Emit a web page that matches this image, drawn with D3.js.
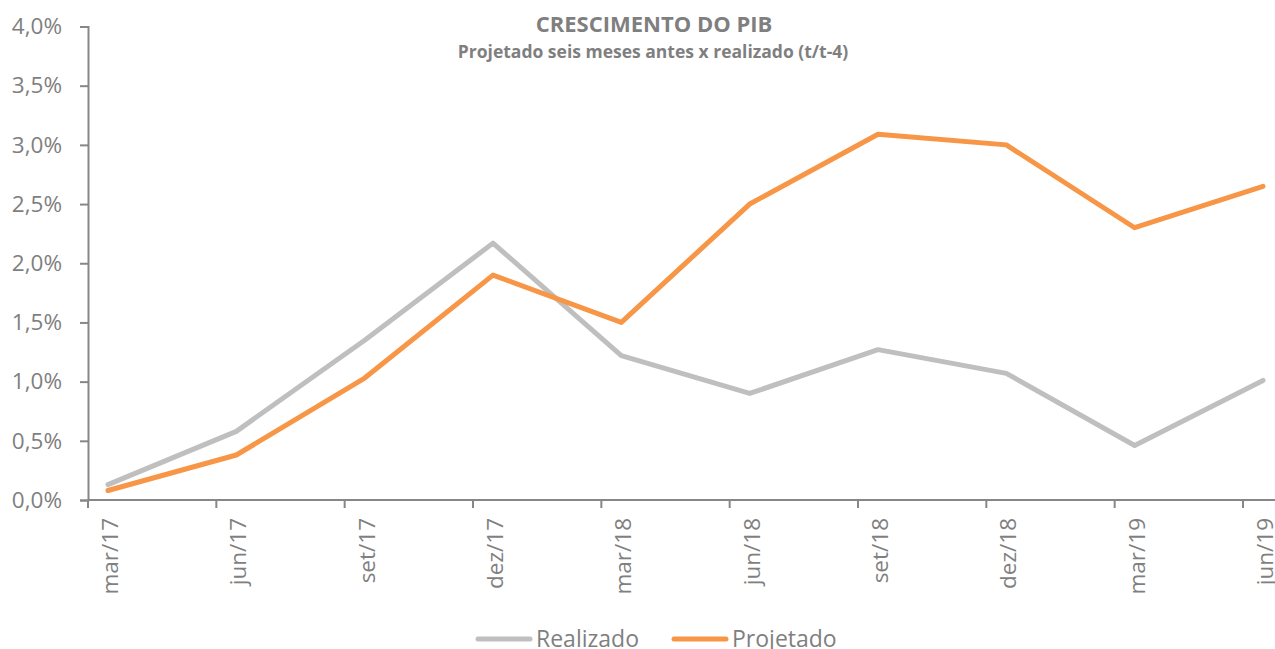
<!DOCTYPE html>
<html>
<head>
<meta charset="utf-8">
<script src="https://cdn.jsdelivr.net/npm/d3@7"></script>
<style>
  body { margin: 0; background: #fff; }
  svg text { font-family: "Open Sans", Lato, sans-serif; fill: #7f7f7f; }
</style>
</head>
<body>
<svg id="chart" width="1275" height="649"></svg>
<script>
const categories = ['mar/17', 'jun/17', 'set/17', 'dez/17', 'mar/18', 'jun/18', 'set/18', 'dez/18', 'mar/19', 'jun/19'];
const realizado = [0.13, 0.58, 1.35, 2.17, 1.22, 0.90, 1.27, 1.07, 0.46, 1.01];
const projetado = [0.08, 0.38, 1.03, 1.90, 1.50, 2.50, 3.09, 3.00, 2.30, 2.65];
const yTicks = [0, 0.5, 1, 1.5, 2, 2.5, 3, 3.5, 4];
const seriesNames = ['Realizado', 'Projetado'];
const seriesColors = ['#bfbfbf', '#f79646'];

const svg = d3.select('#chart');
const axisColor = '#878787';

const x = d3.scalePoint()
    .domain(categories)
    .range([108, 1263]);

const y = d3.scaleLinear()
    .domain([0, 4])
    .range([500, 26.5]);

const fmt = function(d) { return d.toFixed(1).replace('.', ',') + '%'; };

// y axis
const yAxis = svg.append('g')
    .attr('transform', 'translate(88,0)')
    .call(d3.axisLeft(y).tickValues(yTicks).tickFormat(fmt).tickSize(8).tickPadding(18));
yAxis.select('.domain').attr('stroke', axisColor).attr('stroke-width', 2);
yAxis.selectAll('.tick line').attr('stroke', axisColor).attr('stroke-width', 2);
yAxis.selectAll('.tick text')
    .style('font-size', '22.5px')
    .attr('fill', '#7f7f7f');

// x axis
const xg = svg.append('g');
xg.append('line')
    .attr('x1', 88).attr('x2', 1275)
    .attr('y1', y(0)).attr('y2', y(0))
    .attr('stroke', axisColor).attr('stroke-width', 2);

categories.forEach(function(c) {
    xg.append('line')
        .attr('x1', x(c) - 20).attr('x2', x(c) - 20)
        .attr('y1', y(0)).attr('y2', y(0) + 8)
        .attr('stroke', axisColor).attr('stroke-width', 2);

    xg.append('text')
        .attr('transform', 'translate(' + (x(c) + 10) + ',' + (y(0) + 18) + ') rotate(-90)')
        .attr('text-anchor', 'end')
        .style('font-size', '22.5px')
        .text(c);
});

// lines
const line = d3.line()
    .x(function(d, i) { return x(categories[i]); })
    .y(function(d) { return y(d); });

[realizado, projetado].forEach(function(s, i) {
    svg.append('path')
        .datum(s)
        .attr('d', line)
        .attr('fill', 'none')
        .attr('stroke', seriesColors[i])
        .attr('stroke-width', 5)
        .attr('stroke-linejoin', 'round')
        .attr('stroke-linecap', 'round');
});

// title
svg.append('text')
    .attr('x', 654).attr('y', 32)
    .attr('text-anchor', 'middle')
    .style('font-size', '22px')
    .style('font-weight', 'bold')
    .text('CRESCIMENTO DO PIB');

svg.append('text')
    .attr('x', 653).attr('y', 58)
    .attr('text-anchor', 'middle')
    .style('font-size', '17.5px')
    .style('font-weight', 'bold')
    .text('Projetado seis meses antes x realizado (t/t-4)');

// legend
const legendX = [478, 674];
seriesNames.forEach(function(n, i) {
    const lg = svg.append('g').attr('transform', 'translate(' + legendX[i] + ',639)');
    lg.append('line')
        .attr('x1', 0).attr('x2', 52)
        .attr('y1', 0).attr('y2', 0)
        .attr('stroke', seriesColors[i])
        .attr('stroke-width', 5)
        .attr('stroke-linecap', 'round');
    lg.append('text')
        .attr('x', 58).attr('y', 8)
        .style('font-size', '23px')
        .text(n);
});
</script>
</body>
</html>
